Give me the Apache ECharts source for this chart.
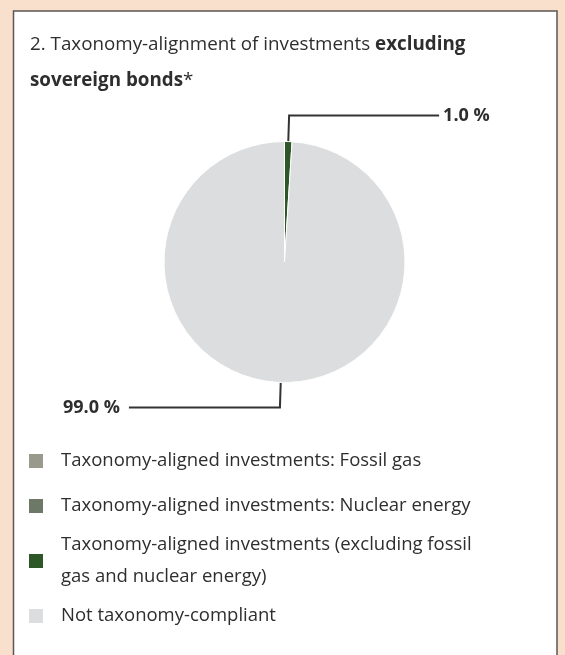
<!DOCTYPE html>
<html>
<head>
<meta charset="utf-8">
<script src="https://cdn.jsdelivr.net/npm/echarts@6/dist/echarts.min.js"></script>
<style>
html,body{margin:0;padding:0;background:#f9e0cd;}
#c{width:565px;height:655px;}
</style>
</head>
<body>
<div id="c"></div>
<script>
const categories = [
  'Taxonomy-aligned investments: Fossil gas',
  'Taxonomy-aligned investments: Nuclear energy',
  'Taxonomy-aligned investments (excluding fossil\ngas and nuclear energy)',
  'Not taxonomy-compliant'
];
const values = [0, 0, 1.0, 99.0];
const colors = ['#999a8b', '#6e7866', '#2e5727', '#dcdddf'];
const valueLabels = ['', '', '1.0 %', '99.0 %'];

const FONT = '"Open Sans", sans-serif';
const TXT = '#2e2e2e';

const chart = echarts.init(document.getElementById('c'), null, {renderer: 'canvas'});

const labelCfg = [
  null, null,
  {length: 26, length2: 150, dist: 4},
  {length: 25, length2: 151, dist: 9}
];

const data = categories.map((name, i) => {
  const d = {name, value: values[i], itemStyle: {color: colors[i]}};
  if (labelCfg[i]) {
    d.label = {show: true, formatter: valueLabels[i], distanceToLabelLine: labelCfg[i].dist};
    d.labelLine = {show: true, length: labelCfg[i].length, length2: labelCfg[i].length2};
  } else {
    d.label = {show: false};
    d.labelLine = {show: false};
  }
  return d;
});

const legendCenters = [461, 506, 561, 616];
const legendLH = [22, 22, 32, 22];
const legendLines = [1, 1, 2, 1];
const legends = categories.map((name, i) => ({
  data: [name],
  left: 27,
  top: legendCenters[i] - legendLH[i] * legendLines[i] / 2,
  padding: 0,
  orient: 'vertical',
  itemWidth: 16,
  itemHeight: 16,
  icon: 'rect',
  selectedMode: false,
  textStyle: {
    fontFamily: FONT, fontSize: 18.5, color: TXT,
    lineHeight: legendLH[i], padding: [0, 0, 0, 12]
  }
}));

chart.setOption({
  animation: false,
  backgroundColor: '#f9e0cd',
  graphic: [{
    type: 'rect',
    shape: {x: 13.5, y: 11, width: 543.5, height: 700},
    style: {fill: '#ffffff', stroke: '#5b5653', lineWidth: 1.5},
    z: -10
  }],
  title: {
    left: 30,
    top: 27,
    padding: 0,
    text: '{n|2. Taxonomy-alignment of investments }{b|excluding}\n{b|sovereign bonds}{n|*}',
    textStyle: {
      rich: {
        n: {fontFamily: FONT, fontSize: 18.8, fontWeight: 'normal', color: TXT, lineHeight: 36},
        b: {fontFamily: FONT, fontSize: 18.8, fontWeight: 'bold', color: TXT, lineHeight: 36}
      }
    }
  },
  legend: legends,
  series: [{
    type: 'pie',
    center: [284.5, 262],
    radius: 120.5,
    startAngle: 90,
    clockwise: true,
    avoidLabelOverlap: false,
    itemStyle: {borderColor: '#ffffff', borderWidth: 1},
    emphasis: {disabled: true},
    label: {
      position: 'outside',
      fontFamily: FONT, fontSize: 18, fontWeight: 'bold', color: TXT
    },
    labelLine: {lineStyle: {color: '#333333', width: 2}},
    data
  }]
});
</script>
</body>
</html>
